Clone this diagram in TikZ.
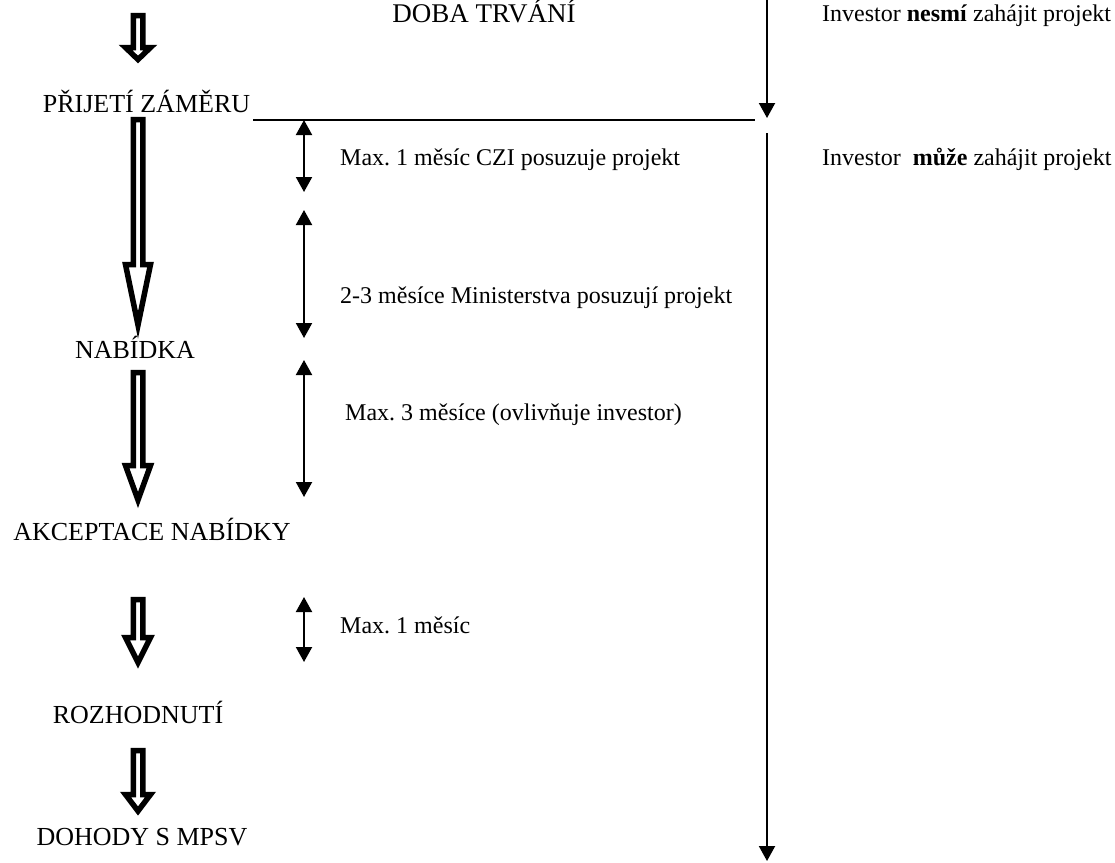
\documentclass[tikz,border=0pt]{standalone}
\usepackage{fontspec}
\setmainfont{Liberation Serif}
\usetikzlibrary{positioning}
\usetikzlibrary{arrows.meta}
\usetikzlibrary{calc}
\frenchspacing

\tikzset{
  stage/.style={inner sep=0pt, anchor=base, font=\fontsize{26}{30}\selectfont},
  note/.style={inner sep=0pt, anchor=base west, font=\fontsize{24}{30}\selectfont},
  hollow/.style={draw=black, fill=white, line width=5.5pt, line join=miter},
  dur/.style={line width=2pt, {Triangle[length=15pt,width=16pt]}-{Triangle[length=15pt,width=16pt]}},
  time/.style={line width=2pt, -{Triangle[length=15pt,width=16pt]}}
}

% hollow block arrow: #1 top, #2 tip, #3 head length
\newcommand{\hollowarrow}[3]{%
  \draw[hollow] ($(#1)+(-4.75,0)$) -- ($(#2)+(-4.75,-#3)$) -- ($(#2)+(-12.5,-#3)$)
    -- (#2) -- ($(#2)+(12.5,-#3)$) -- ($(#2)+(4.75,-#3)$) -- ($(#1)+(4.75,0)$) -- cycle;}

\begin{document}
\begin{tikzpicture}[x=1pt,y=-1pt]
  \useasboundingbox (0,0) rectangle (1115,862);

  % stages
  \node[stage] (zamer) at (146.5,112) {PŘIJETÍ ZÁMĚRU};
  \node[stage] (nabidka) at (135,358) {NABÍDKA};
  \node[stage] (akcept) at (152,540) {AKCEPTACE NABÍDKY};
  \node[stage] (rozhod) at (138,723) {ROZHODNUTÍ};
  \node[stage] (dohody) at (142,845) {DOHODY S MPSV};

  % block arrows between the stages
  \coordinate (a1s) at (138,15.5);   \coordinate (a1e) at (138,59.5);
  \coordinate (a2s) at (138,119.5);  \coordinate (a2e) at (138,325);
  \coordinate (a3s) at (138,372.5);  \coordinate (a3e) at (138,500);
  \coordinate (a4s) at (138,599.5);  \coordinate (a4e) at (138,662.5);
  \coordinate (a5s) at (138,750.5);  \coordinate (a5e) at (138,811);
  \hollowarrow{a1s}{a1e}{12}
  \hollowarrow{a2s}{a2e}{60.5}
  \hollowarrow{a3s}{a3e}{34.5}
  \hollowarrow{a4s}{a4e}{25}
  \hollowarrow{a5s}{a5e}{16.5}

  % time axis
  \node[stage, font=\fontsize{27}{30}\selectfont] (doba) at (484,22) {DOBA TRVÁNÍ};
  \coordinate (t0) at (767,0);
  \coordinate (t1) at (767,118);
  \coordinate (t2) at (767,133);
  \coordinate (t3) at (767,861);
  \coordinate (h0) at (253,119.5);
  \coordinate (h1) at (755,119.5);
  \draw[line width=2pt] (h0) -- (h1);
  \draw[time] (t0) -- (t1);
  \draw[time] (t2) -- (t3);

  % durations
  \foreach \a/\b [count=\i] in {120/192, 210/338, 360/497, 597/662}
    {\coordinate (d\i a) at (304,\a);
     \coordinate (d\i b) at (304,\b);
     \draw[dur] (d\i a) -- (d\i b);}

  \node[note] (m1) at (340,165) {Max. 1 měsíc CZI posuzuje projekt};
  \node[note] (m2) at (340,303) {2-3 měsíce Ministerstva posuzují projekt};
  \node[note] (m3) at (345,420) {Max. 3 měsíce (ovlivňuje investor)};
  \node[note] (m4) at (340,633) {Max. 1 měsíc};

  \node[note] (nesmi) at (822,21) {Investor \textbf{nesmí} zahájit projekt};
  \node[note] (muze) at (822,165) {Investor\ \ \textbf{může} zahájit projekt};
\end{tikzpicture}
\end{document}
